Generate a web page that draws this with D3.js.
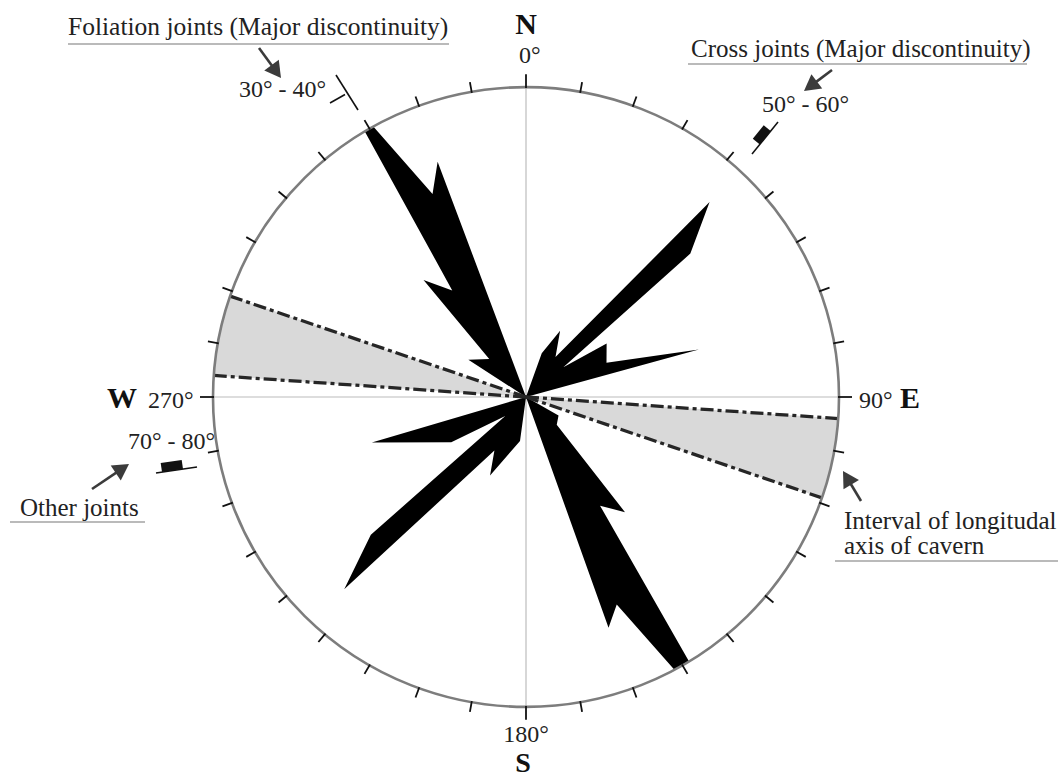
<!DOCTYPE html>
<html>
<head>
<meta charset="utf-8">
<script src="https://cdn.jsdelivr.net/npm/d3@7"></script>
<style>
  body { margin: 0; background: #fff; }
  text { font-family: "Liberation Serif", "Times New Roman", serif; fill: #222; }
</style>
</head>
<body>
<svg id="chart" width="1058" height="778"></svg>
<script>
// Rose diagram of joint strikes.
// Each petal group is a closed outline: vertex azimuth (deg from N, clockwise)
// and relative frequency (% of the outer ring).
const nwAngles = [303.2, 316.3, 319.1, 325.6, 329.0, 330.8, 335.5, 339.6];
const nwValues = [22, 17, 50, 41.7, 100, 100, 72, 81];
const neAngles = [19.6, 27, 36.1, 43, 48.6, 51.2, 56.2, 66.7, 74.5];
const neValues = [15, 24, 16, 86, 70, 15.3, 31, 28, 57.3];
const seAngles = [120, 132.4, 139.6, 146, 148.6, 151.7, 156.6, 160.5];
const seValues = [12, 13.3, 48.8, 42.3, 100, 100, 73, 79];
const swAngles = [187.7, 204.4, 210.3, 223.1, 228.1, 227.4, 238.5, 253.4];
const swValues = [14.3, 27.8, 20, 85, 66.6, 9, 28, 51.4];

// Azimuth interval of the cavern's longitudinal axis (drawn on both ends)
const cavernInterval = [94, 109];

// Ring ticks every 10 degrees
const tickAngles = d3.range(0, 360, 10);
const cardinalAngles = [0, 90, 180, 270];

// Text
const cardinalLetters = ["N", "E", "S", "W"];
const cardinalDegrees = ["0°", "90°", "180°", "270°"];
const foliationTitle = "Foliation joints (Major discontinuity)";
const foliationRange = "30° - 40°";
const crossTitle = "Cross joints (Major discontinuity)";
const crossRange = "50° - 60°";
const otherTitle = "Other joints";
const otherRange = "70° - 80°";
const cavernLines = ["Interval of longitudal", "axis of cavern"];

const svg = d3.select("#chart");
const cx = 526, cy = 397, R = 313;
const rad = d => d * Math.PI / 180;
const r = d3.scaleLinear().domain([0, 100]).range([0, R]);
const polar = (a, rr) => [rr * Math.sin(rad(a)), -rr * Math.cos(rad(a))];

const g = svg.append("g").attr("transform", `translate(${cx},${cy}) scale(1,0.99)`);

// Cavern axis interval (shaded)
const sector = d3.arc().innerRadius(0).outerRadius(R);
[0, 180].forEach(off => {
  g.append("path")
    .attr("d", sector({ startAngle: rad(cavernInterval[0] + off), endAngle: rad(cavernInterval[1] + off) }))
    .attr("fill", "#d9d9d9");
});

// N-S and E-W reference lines
g.append("line").attr("x1", 0).attr("x2", 0).attr("y1", -R).attr("y2", R)
  .attr("stroke", "#bcbcbc").attr("stroke-width", 1.2);
g.append("line").attr("x1", -R).attr("x2", R).attr("y1", 0).attr("y2", 0)
  .attr("stroke", "#bcbcbc").attr("stroke-width", 1.2);

// Petals
const petal = d3.lineRadial()
  .angle(d => rad(d.a))
  .radius(d => r(d.v))
  .curve(d3.curveLinearClosed);

[[nwAngles, nwValues], [neAngles, neValues], [seAngles, seValues], [swAngles, swValues]]
  .forEach(([angles, values]) => {
    const pts = [{ a: 0, v: 0 }].concat(angles.map((a, i) => ({ a, v: values[i] })));
    g.append("path").attr("d", petal(pts)).attr("fill", "#000");
  });

// Dash-dot bounds of the cavern interval
[cavernInterval[0], cavernInterval[1], cavernInterval[0] + 180, cavernInterval[1] + 180].forEach(a => {
  const [x, y] = polar(a, R);
  g.append("line").attr("x1", 0).attr("y1", 0).attr("x2", x).attr("y2", y)
    .attr("stroke", "#262626").attr("stroke-width", 3.3)
    .attr("stroke-dasharray", "13,4,4,4");
});

// Outer ring
g.append("circle").attr("r", R).attr("fill", "none")
  .attr("stroke", "#7d7d7d").attr("stroke-width", 2.6);

// Ticks
g.selectAll("line.tick").data(tickAngles).join("line")
  .attr("class", "tick")
  .each(function (a) {
    const len = cardinalAngles.includes(a) ? 13 : 10;
    const [x1, y1] = polar(a, R - 1);
    const [x2, y2] = polar(a, R + len);
    d3.select(this).attr("x1", x1).attr("y1", y1).attr("x2", x2).attr("y2", y2);
  })
  .attr("stroke", "#111").attr("stroke-width", 1.8);

// Cardinal labels
const bold = (sel, size) => sel.attr("font-weight", "bold").attr("font-size", size || 30).style("fill", "#111");
bold(svg.append("text").attr("x", 526).attr("y", 34).attr("text-anchor", "middle").text(cardinalLetters[0]));
svg.append("text").attr("x", 519).attr("y", 63).attr("font-size", 24).text(cardinalDegrees[0]);

svg.append("text").attr("x", 859).attr("y", 408).attr("font-size", 24).text(cardinalDegrees[1]);
bold(svg.append("text").attr("x", 900).attr("y", 408).text(cardinalLetters[1]));

svg.append("text").attr("x", 526).attr("y", 742).attr("text-anchor", "middle").attr("font-size", 24).text(cardinalDegrees[2]);
bold(svg.append("text").attr("x", 523).attr("y", 772).attr("text-anchor", "middle"), 28).text(cardinalLetters[2]);

bold(svg.append("text").attr("x", 107).attr("y", 408).text(cardinalLetters[3]));
svg.append("text").attr("x", 148).attr("y", 408).attr("font-size", 24).text(cardinalDegrees[3]);

// Annotation helpers
function arrow(x1, y1, x2, y2) {
  const dx = x2 - x1, dy = y2 - y1, L = Math.hypot(dx, dy);
  const ux = dx / L, uy = dy / L, hl = 16, hw = 9;
  const bx = x2 - ux * hl, by = y2 - uy * hl;
  svg.append("line").attr("x1", x1).attr("y1", y1).attr("x2", bx + ux * 2).attr("y2", by + uy * 2)
    .attr("stroke", "#3b3b3b").attr("stroke-width", 2.6);
  svg.append("path")
    .attr("d", d3.line()([[x2, y2], [bx - uy * hw, by + ux * hw], [bx + uy * hw, by - ux * hw]]) + "Z")
    .attr("fill", "#3b3b3b");
}
function underline(x1, x2, y) {
  svg.append("line").attr("x1", x1).attr("x2", x2).attr("y1", y).attr("y2", y)
    .attr("stroke", "#777").attr("stroke-width", 1.2);
}
function label(x, y, str, size) {
  svg.append("text").attr("x", x).attr("y", y).attr("font-size", size).style("fill", "#222").text(str);
}

// Foliation joints
label(68, 35, foliationTitle, 25.5);
underline(68, 449, 44);
arrow(259, 48, 281, 78);
label(239, 97, foliationRange, 24);
svg.append("line").attr("x1", 336).attr("y1", 75).attr("x2", 358).attr("y2", 110)
  .attr("stroke", "#111").attr("stroke-width", 1.6);
svg.append("line").attr("x1", 345).attr("y1", 94.5).attr("x2", 330).attr("y2", 103)
  .attr("stroke", "#111").attr("stroke-width", 1.6);

// Cross joints
label(691, 57, crossTitle, 25);
underline(688, 1027, 64);
arrow(832, 70, 804, 91);
label(762, 112, crossRange, 24);
svg.append("line").attr("x1", 778).attr("y1", 122).attr("x2", 752).attr("y2", 154)
  .attr("stroke", "#111").attr("stroke-width", 1.6);
svg.append("path").attr("d", d3.line()([[759.8, 144.4], [770.7, 131], [763.7, 125.3], [752.8, 138.7]]) + "Z")
  .attr("fill", "#111");

// Other joints
label(128, 449, otherRange, 24);
svg.append("line").attr("x1", 156).attr("y1", 473).attr("x2", 197).attr("y2", 467)
  .attr("stroke", "#111").attr("stroke-width", 1.6);
svg.append("path").attr("d", d3.line()([[162, 472], [183, 469], [181.7, 460], [160.7, 463]]) + "Z")
  .attr("fill", "#111");
arrow(92, 489, 129, 464);
label(20, 516, otherTitle, 25);
underline(10, 145, 522);

// Cavern interval
arrow(861, 501, 843, 471);
label(844, 529, cavernLines[0], 25);
label(844, 554, cavernLines[1], 25);
underline(835, 1058, 561);
</script>
</body>
</html>
